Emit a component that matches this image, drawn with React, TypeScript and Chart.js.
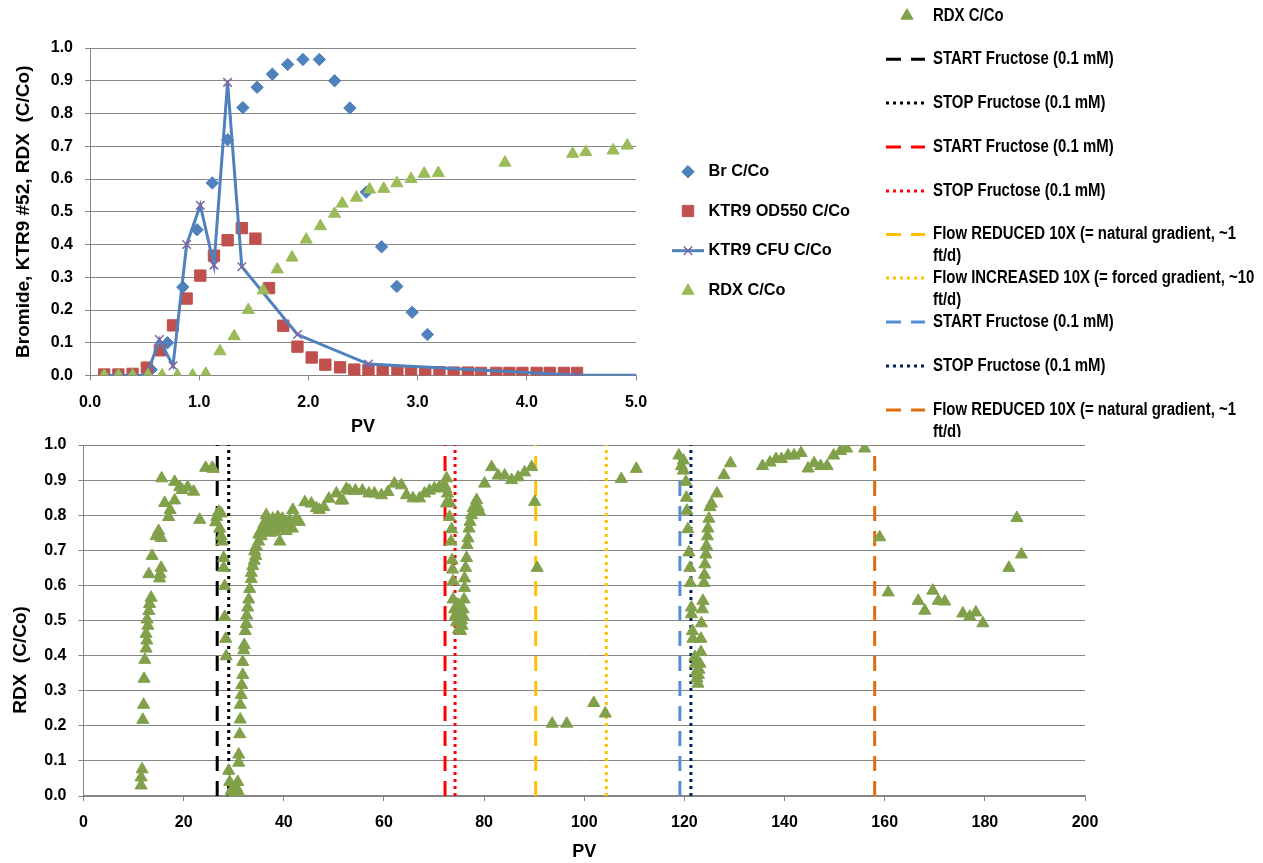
import React, { useEffect, useRef } from 'react';
import { Chart, registerables } from 'chart.js';

Chart.register(...registerables);

type Pt = [number, number];

// ---------------- DATA: top chart (PV 0-5) ----------------
const brLabel = 'Br C/Co';
const brPoints: Pt[] = [
  [0.56, 0.018], [0.71, 0.10], [0.85, 0.27], [0.98, 0.445], [1.12, 0.588], [1.26, 0.72],
  [1.40, 0.818], [1.53, 0.88], [1.67, 0.92], [1.81, 0.95], [1.95, 0.965], [2.10, 0.965],
  [2.24, 0.90], [2.38, 0.817], [2.53, 0.56], [2.67, 0.393], [2.81, 0.272], [2.95, 0.193],
  [3.09, 0.125],
];

const odLabel = 'KTR9 OD550 C/Co';
const odPoints: Pt[] = [
  [0.13, 0.003], [0.26, 0.003], [0.39, 0.005], [0.52, 0.024], [0.64, 0.077], [0.76, 0.153],
  [0.885, 0.235], [1.01, 0.305], [1.135, 0.366], [1.26, 0.413], [1.39, 0.45], [1.515, 0.418],
  [1.64, 0.267], [1.77, 0.152], [1.90, 0.088], [2.03, 0.055], [2.155, 0.033], [2.29, 0.025],
  [2.42, 0.018], [2.55, 0.016], [2.68, 0.014], [2.815, 0.012], [2.94, 0.01], [3.07, 0.01],
  [3.2, 0.01], [3.33, 0.009], [3.46, 0.009], [3.58, 0.008], [3.72, 0.008], [3.84, 0.008],
  [3.96, 0.008], [4.09, 0.008], [4.21, 0.008], [4.34, 0.008], [4.46, 0.008],
];

const cfuLabel = 'KTR9 CFU C/Co';
const cfuPoints: Pt[] = [
  [0.13, 0], [0.26, 0], [0.39, 0], [0.52, 0], [0.635, 0.11], [0.76, 0.03], [0.885, 0.40],
  [1.01, 0.52], [1.135, 0.337], [1.26, 0.895], [1.39, 0.332], [1.90, 0.125], [2.55, 0.035],
  [4.46, 0.001], [6.0, 0],
];

const rdxLabel = 'RDX C/Co';
const rdxShortPoints: Pt[] = [
  [0.13, 0], [0.26, 0], [0.39, 0], [0.53, 0], [0.66, 0], [0.8, 0], [0.94, 0], [1.06, 0.005],
  [1.19, 0.074], [1.32, 0.12], [1.45, 0.2], [1.585, 0.26], [1.715, 0.324], [1.85, 0.36],
  [1.98, 0.415], [2.11, 0.456], [2.24, 0.494], [2.31, 0.525], [2.44, 0.543], [2.56, 0.568],
  [2.69, 0.57], [2.81, 0.587], [2.94, 0.6], [3.06, 0.616], [3.19, 0.618], [3.80, 0.65],
  [4.42, 0.677], [4.54, 0.682], [4.79, 0.687], [4.92, 0.702],
];

// ---------------- DATA: bottom chart (PV 0-200) ----------------
const rdxLongPoints: Pt[] = [
  // first breakthrough
  [11.5, 0.03], [11.5, 0.053], [11.7, 0.076], [11.85, 0.217], [12.0, 0.26], [12.1, 0.334],
  [12.25, 0.388], [12.5, 0.42], [12.5, 0.462], [12.65, 0.443], [12.7, 0.503], [12.85, 0.485],
  [13.05, 0.527], [13.2, 0.547], [13.5, 0.565], [13.05, 0.632], [13.7, 0.684], [14.5, 0.74],
  [15.0, 0.755], [15.5, 0.735], [15.2, 0.62], [15.3, 0.632], [15.5, 0.65], [15.6, 0.905],
  [16.2, 0.835], [17.0, 0.795], [17.3, 0.815], [18.2, 0.842], [18.2, 0.895], [19.2, 0.88],
  [19.7, 0.872], [20.8, 0.88], [22.0, 0.867], [23.2, 0.787], [24.4, 0.935], [25.7, 0.935],
  [25.9, 0.932],
  // after first fructose start
  [26.4, 0.78], [26.6, 0.795], [27.0, 0.81], [27.5, 0.805], [27.2, 0.762], [27.5, 0.74],
  [27.7, 0.725], [28.0, 0.678], [28.0, 0.65], [28.2, 0.598], [28.2, 0.51], [28.4, 0.448],
  [28.5, 0.398], [29.0, 0.072], [29.2, 0.04], [29.5, 0.015], [29.8, 0.003], [30.1, 0.006],
  [30.5, 0.024], [30.8, 0.04], [31.0, 0.01], [30.5, 0.02],
  // recovery
  [31.0, 0.095], [31.0, 0.118], [31.2, 0.176], [31.3, 0.218], [31.3, 0.26], [31.5, 0.288],
  [31.6, 0.316], [31.8, 0.345], [31.8, 0.382], [32.0, 0.415], [32.1, 0.43], [32.3, 0.47],
  [32.5, 0.49], [32.6, 0.514], [32.8, 0.537], [33.0, 0.56], [33.2, 0.59], [33.5, 0.618],
  [33.5, 0.636], [33.8, 0.655], [34.1, 0.67], [34.2, 0.697], [34.4, 0.684], [34.5, 0.711],
  [35.0, 0.725], [35.0, 0.745], [35.4, 0.755], [35.5, 0.74], [35.8, 0.762], [36.0, 0.775],
  [36.0, 0.755], [36.5, 0.8], [36.8, 0.77], [37.0, 0.786], [37.3, 0.75], [37.5, 0.762],
  [37.8, 0.79], [38.0, 0.776], [38.3, 0.753], [38.5, 0.78], [38.6, 0.767], [38.8, 0.795],
  [39.2, 0.725], [39.3, 0.78], [39.7, 0.79], [40.0, 0.762], [40.3, 0.781], [40.5, 0.755],
  [40.7, 0.771], [41.0, 0.77], [41.2, 0.786], [41.7, 0.762], [41.8, 0.815], [42.5, 0.79],
  [43.1, 0.781],
  // plateau
  [44.2, 0.837], [45.5, 0.833], [46.5, 0.82], [47.1, 0.815], [48.0, 0.823], [49.0, 0.847],
  [50.5, 0.862], [51.4, 0.842], [51.8, 0.842], [52.5, 0.875], [53.1, 0.87], [54.3, 0.87],
  [55.7, 0.87], [57.0, 0.862], [58.1, 0.862], [59.5, 0.857], [60.8, 0.866], [62.1, 0.89],
  [63.5, 0.885], [64.5, 0.857], [65.8, 0.848], [67.1, 0.848], [68.1, 0.862], [69.1, 0.87],
  [70.1, 0.876], [71.1, 0.88], [72.1, 0.885], [72.5, 0.905], [72.3, 0.876], [72.7, 0.862],
  [72.5, 0.834], [73.2, 0.834],
  // second dip
  [73.1, 0.795], [73.5, 0.76], [73.4, 0.725], [73.6, 0.672], [73.7, 0.645], [73.8, 0.612],
  [73.8, 0.56], [74.1, 0.532], [74.3, 0.513], [74.5, 0.495], [74.5, 0.52], [74.8, 0.545],
  [74.9, 0.475], [75.0, 0.5], [75.2, 0.53], [75.3, 0.47], [75.5, 0.5], [75.6, 0.485],
  [75.8, 0.513], [75.8, 0.532], [76.0, 0.56], [76.1, 0.593], [76.1, 0.62], [76.3, 0.65],
  [76.5, 0.678], [76.6, 0.715], [76.8, 0.734], [77.0, 0.762], [77.2, 0.781], [77.5, 0.8],
  [77.8, 0.82], [78.5, 0.843], [78.8, 0.823], [79.1, 0.81],
  [80.1, 0.89], [81.5, 0.937], [82.8, 0.913], [84.1, 0.913], [85.5, 0.9], [86.8, 0.908],
  [88.1, 0.922], [89.5, 0.937], [90.1, 0.838], [90.6, 0.65],
  // reduced flow
  [93.6, 0.206], [96.5, 0.206], [101.9, 0.265], [104.2, 0.235], [107.4, 0.903], [110.4, 0.932],
  // third dip
  [118.9, 0.97], [119.8, 0.956], [119.4, 0.94], [119.8, 0.927], [120.3, 0.895], [120.4, 0.85],
  [120.5, 0.813], [120.7, 0.76], [120.9, 0.694], [121.1, 0.65], [121.2, 0.607], [121.4, 0.537],
  [121.4, 0.518], [121.6, 0.47], [121.7, 0.448], [122.1, 0.396], [122.2, 0.377], [122.4, 0.354],
  [122.5, 0.335], [122.6, 0.38], [122.7, 0.32], [122.8, 0.345], [122.9, 0.36], [123.1, 0.377],
  [123.3, 0.41], [123.3, 0.448], [123.4, 0.492], [123.6, 0.532], [123.7, 0.556], [123.9, 0.607],
  [124.0, 0.63], [124.1, 0.66], [124.3, 0.688], [124.4, 0.712], [124.6, 0.74], [124.7, 0.762],
  [124.9, 0.79], [125.1, 0.823], [125.4, 0.833], [126.5, 0.862], [127.9, 0.914], [129.2, 0.948],
  [135.6, 0.94], [137.1, 0.95], [138.3, 0.96], [139.4, 0.96], [140.7, 0.97], [141.9, 0.97],
  [143.3, 0.977], [144.7, 0.933], [145.9, 0.948], [147.2, 0.94], [148.5, 0.94], [149.8, 0.97],
  [151.2, 0.983], [152.4, 0.99], [156.0, 0.99],
  // after final flow reduction
  [159.0, 0.737], [160.7, 0.58], [166.7, 0.556], [168.0, 0.528], [169.6, 0.585], [170.7, 0.556],
  [172.0, 0.554], [175.6, 0.52], [177.0, 0.511], [178.2, 0.523], [179.6, 0.492], [184.8, 0.65],
  [186.4, 0.792], [187.3, 0.688],
];

const eventPV = [26.7, 29.0, 72.2, 74.2, 90.3, 104.4, 119.1, 121.3, 158.0];
const eventLabels = [
  'START Fructose (0.1 mM)',
  'STOP Fructose (0.1 mM)',
  'START Fructose (0.1 mM)',
  'STOP Fructose (0.1 mM)',
  'Flow REDUCED 10X (= natural gradient, ~1 ft/d)',
  'Flow INCREASED 10X (= forced gradient, ~10 ft/d)',
  'START Fructose (0.1 mM)',
  'STOP Fructose (0.1 mM)',
  'Flow REDUCED 10X (= natural gradient, ~1 ft/d)',
];

const topXTitle = 'PV';
const topYTitle = 'Bromide, KTR9 #52, RDX  (C/Co)';
const botXTitle = 'PV';
const botYTitle = 'RDX  (C/Co)';

// ---------------- STYLES ----------------
const FONT = "'Liberation Sans', Arial, sans-serif";
const BLUE = '#4F81BD';
const RED = '#C0504D';
const PURPLE = '#8064A2';
const GREEN = '#9BBB59';
const GREEN_DARK = '#80A04A';
const GRID = '#868686';
const DASH = [15, 10];
const DOT = [3, 4];
const eventStyles = [
  { color: '#000000', dash: DASH },
  { color: '#000000', dash: DOT },
  { color: '#FF0000', dash: DASH },
  { color: '#FF0000', dash: DOT },
  { color: '#FFC000', dash: DASH },
  { color: '#FFC000', dash: DOT },
  { color: '#558ED5', dash: DASH },
  { color: '#002060', dash: DOT },
  { color: '#E46C0A', dash: DASH },
];

Chart.defaults.font.family = FONT;

const toXY = (a: Pt[]) => a.map(([x, y]) => ({ x, y }));
const fmt1 = (v: any) => Number(v).toFixed(1);

function drawMarker(ctx: CanvasRenderingContext2D, style: string, x: number, y: number, r: number, fill: string, stroke: string, lw: number) {
  ctx.save();
  ctx.setLineDash([]);
  ctx.beginPath();
  if (style === 'triangle') {
    ctx.moveTo(x, y - r);
    ctx.lineTo(x + 0.866 * r, y + 0.5 * r);
    ctx.lineTo(x - 0.866 * r, y + 0.5 * r);
    ctx.closePath();
  } else if (style === 'rectRot') {
    ctx.moveTo(x, y - r);
    ctx.lineTo(x + r, y);
    ctx.lineTo(x, y + r);
    ctx.lineTo(x - r, y);
    ctx.closePath();
  } else if (style === 'rect') {
    const s = Math.SQRT1_2 * r;
    ctx.rect(x - s, y - s, 2 * s, 2 * s);
  } else if (style === 'crossRot') {
    const s = Math.SQRT1_2 * r;
    ctx.moveTo(x - s, y - s); ctx.lineTo(x + s, y + s);
    ctx.moveTo(x - s, y + s); ctx.lineTo(x + s, y - s);
    ctx.strokeStyle = stroke; ctx.lineWidth = lw; ctx.stroke();
    ctx.restore();
    return;
  }
  ctx.fillStyle = fill; ctx.fill();
  ctx.strokeStyle = stroke; ctx.lineWidth = lw; ctx.stroke();
  ctx.restore();
}

function wrapText(ctx: CanvasRenderingContext2D, text: string, maxW: number, sx: number) {
  const words = text.split(' ');
  const lines: string[] = [];
  let cur = '';
  for (const w of words) {
    const t = cur ? cur + ' ' + w : w;
    if (cur && ctx.measureText(t).width * sx > maxW) { lines.push(cur); cur = w; } else cur = t;
  }
  if (cur) lines.push(cur);
  return lines;
}

interface LegendCfg {
  rows: number[];
  markerX: number;
  lineX0: number;
  lineX1: number;
  textX: number;
  font: string;
  scaleX: number;
  lineHeight: number;
  maxWidth: number;
  clipBottom?: number;
}

function makeLegend(cfg: LegendCfg) {
  return {
    id: 'freeLegend',
    afterDraw(chart: any) {
      const ctx: CanvasRenderingContext2D = chart.ctx;
      ctx.save();
      if (cfg.clipBottom) {
        ctx.beginPath();
        ctx.rect(0, 0, chart.width, cfg.clipBottom);
        ctx.clip();
      }
      ctx.font = cfg.font;
      ctx.textBaseline = 'middle';
      ctx.textAlign = 'left';
      chart.data.datasets.forEach((ds: any, i: number) => {
        const y = cfg.rows[i];
        if (y === undefined) return;
        if (ds.showLine) {
          ctx.save();
          ctx.beginPath();
          ctx.setLineDash(ds.borderDash || []);
          ctx.strokeStyle = ds.borderColor;
          ctx.lineWidth = ds.borderWidth;
          ctx.moveTo(cfg.lineX0, y);
          ctx.lineTo(cfg.lineX1, y);
          ctx.stroke();
          ctx.restore();
        }
        if (ds.pointRadius > 0) {
          drawMarker(ctx, ds.pointStyle, cfg.markerX, y, ds.pointRadius,
            ds.pointBackgroundColor || ds.backgroundColor,
            ds.pointBorderColor || ds.borderColor,
            ds.pointBorderWidth || 1);
        }
        ctx.fillStyle = '#000';
        const lines = wrapText(ctx, ds.label, cfg.maxWidth, cfg.scaleX);
        lines.forEach((ln, k) => {
          ctx.save();
          ctx.translate(cfg.textX, y + k * cfg.lineHeight);
          ctx.scale(cfg.scaleX, 1);
          ctx.fillText(ln, 0, 0);
          ctx.restore();
        });
      });
      ctx.restore();
    },
  };
}

const rotatedTitle = (text: string, x: number, y: number, font: string) => ({
  id: 'rotatedTitle',
  afterDraw(chart: any) {
    const ctx: CanvasRenderingContext2D = chart.ctx;
    ctx.save();
    ctx.translate(x, y);
    ctx.rotate(-Math.PI / 2);
    ctx.font = font;
    ctx.fillStyle = '#000';
    ctx.textAlign = 'center';
    ctx.textBaseline = 'middle';
    ctx.fillText(text, 0, 0);
    ctx.restore();
  },
});

const tickFont = { family: FONT, size: 16, weight: 'bold' as const };
const titleFont = { family: FONT, size: 18, weight: 'bold' as const };

function topConfig(): any {
  return {
    type: 'scatter',
    data: {
      datasets: [
        { label: brLabel, data: toXY(brPoints), pointStyle: 'rectRot', pointRadius: 6.2,
          backgroundColor: BLUE, borderColor: BLUE, borderWidth: 1, order: 4 },
        { label: odLabel, data: toXY(odPoints), pointStyle: 'rect', pointRadius: 8,
          backgroundColor: RED, borderColor: RED, borderWidth: 1, order: 3 },
        { label: cfuLabel, data: toXY(cfuPoints), showLine: true, borderColor: BLUE, borderWidth: 3,
          tension: 0, pointStyle: 'crossRot', pointRadius: 6, pointBorderColor: PURPLE,
          pointBackgroundColor: PURPLE, pointBorderWidth: 1.5, order: 2 },
        { label: rdxLabel, data: toXY(rdxShortPoints), pointStyle: 'triangle', pointRadius: 7,
          backgroundColor: GREEN, borderColor: GREEN, borderWidth: 1, order: 1 },
      ],
    },
    options: {
      animation: false,
      responsive: false,
      events: [],
      layout: { padding: { left: 0, top: 48, right: 244, bottom: 0 } },
      plugins: { legend: { display: false }, tooltip: { enabled: false } },
      scales: {
        x: {
          type: 'linear', min: 0, max: 5,
          afterFit: (s: any) => { s.height = 64.5; },
          ticks: { stepSize: 1, callback: fmt1, font: tickFont, color: '#000', padding: 12, maxRotation: 0 },
          grid: { drawOnChartArea: false, drawTicks: true, tickLength: 5, color: GRID },
          border: { color: GRID, width: 1 },
          title: { display: true, text: topXTitle, font: titleFont, color: '#000', padding: { top: 0, bottom: 2.5 } },
        },
        y: {
          type: 'linear', min: 0, max: 1,
          afterFit: (s: any) => { s.width = 90; },
          ticks: { stepSize: 0.1, callback: fmt1, font: tickFont, color: '#000', padding: 12 },
          grid: { color: GRID, drawTicks: true, tickLength: 5 },
          border: { color: GRID, width: 1 },
          title: { display: true, text: topYTitle, font: { family: FONT, size: 19, weight: 'bold' }, color: '#000', padding: { top: 12.5, bottom: 0 } },
        },
      },
    },
    plugins: [makeLegend({
      rows: [171.7, 211, 250.7, 290.7], markerX: 688, lineX0: 672, lineX1: 704, textX: 708.5,
      font: `bold 17px ${FONT}`, scaleX: 0.96, lineHeight: 22, maxWidth: 400,
    })],
  };
}

function botConfig(): any {
  return {
    type: 'scatter',
    data: {
      datasets: [
        { label: rdxLabel, data: toXY(rdxLongPoints), pointStyle: 'triangle', pointRadius: 7,
          backgroundColor: GREEN_DARK, borderColor: GREEN_DARK, borderWidth: 1, order: 0 },
        ...eventPV.map((pv, i) => ({
          label: eventLabels[i],
          data: [{ x: pv, y: 0 }, { x: pv, y: 1 }],
          showLine: true, pointRadius: 0, borderColor: eventStyles[i].color,
          borderWidth: 3, borderDash: eventStyles[i].dash, order: 1,
        })),
      ],
    },
    options: {
      animation: false,
      responsive: false,
      events: [],
      layout: { padding: { left: 0, top: 445, right: 178, bottom: 0 } },
      plugins: { legend: { display: false }, tooltip: { enabled: false } },
      scales: {
        x: {
          type: 'linear', min: 0, max: 200,
          afterFit: (s: any) => { s.height = 67; },
          ticks: { stepSize: 20, font: tickFont, color: '#000', padding: 12, maxRotation: 0 },
          grid: { drawOnChartArea: false, drawTicks: true, tickLength: 5, color: GRID },
          border: { color: GRID, width: 1.5 },
          title: { display: true, text: botXTitle, font: titleFont, color: '#000', padding: { top: 0, bottom: 0 } },
        },
        y: {
          type: 'linear', min: 0, max: 1,
          afterFit: (s: any) => { s.width = 83.5; },
          ticks: { stepSize: 0.1, callback: fmt1, font: tickFont, color: '#000', padding: 12 },
          grid: { color: GRID, drawTicks: true, tickLength: 5 },
          border: { color: GRID, width: 1 },
        },
      },
    },
    plugins: [
      makeLegend({
        rows: [15.7, 59.3, 103, 147, 191, 234.5, 278, 322, 366, 410], markerX: 907,
        lineX0: 886, lineX1: 925, textX: 933, font: `bold 18px ${FONT}`, scaleX: 0.83, lineHeight: 22,
        maxWidth: 330, clipBottom: 437,
      }),
      rotatedTitle(botYTitle, 21, 660, `bold 19px ${FONT}`),
    ],
  };
}

export default function App() {
  const topRef = useRef<HTMLCanvasElement>(null);
  const botRef = useRef<HTMLCanvasElement>(null);
  useEffect(() => {
    const bot = new Chart(botRef.current as HTMLCanvasElement, botConfig());
    const top = new Chart(topRef.current as HTMLCanvasElement, topConfig());
    return () => { top.destroy(); bot.destroy(); };
  }, []);
  return (
    <div style={{ position: 'absolute', left: 0, top: 0, width: 1263, height: 863, overflow: 'hidden', background: '#fff' }}>
      <canvas ref={botRef} width={1263} height={863} style={{ position: 'absolute', left: 0, top: 0, display: 'block' }} />
      <canvas ref={topRef} width={880} height={440} style={{ position: 'absolute', left: 0, top: 0, display: 'block' }} />
    </div>
  );
}
